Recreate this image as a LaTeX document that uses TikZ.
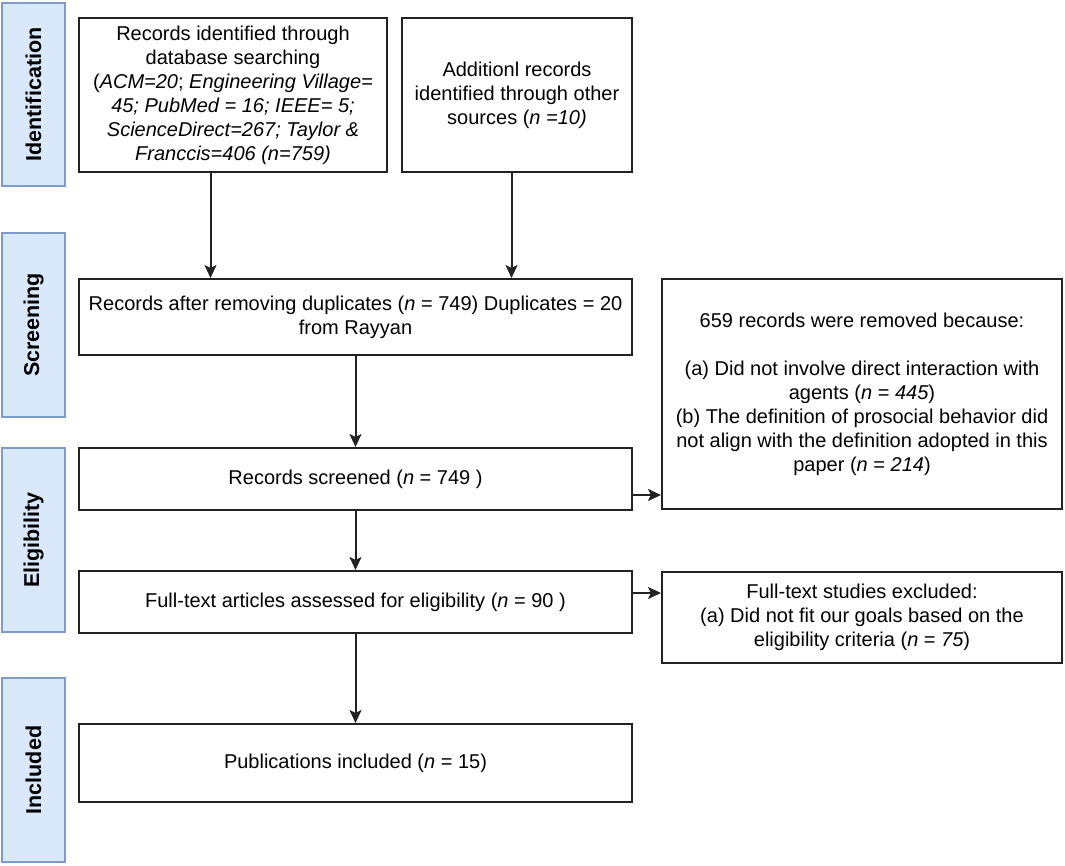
\documentclass[tikz,border=0pt]{standalone}
\usepackage{fontspec}
\setmainfont{Liberation Sans}
\usetikzlibrary{arrows.meta}
\definecolor{stripfill}{HTML}{DAE8FC}
\definecolor{stripdraw}{HTML}{7E9CC6}
\definecolor{boxdraw}{HTML}{222222}
\begin{document}
\begin{tikzpicture}[x=1pt,y=-1pt,
  every node/.style={font=\fontsize{20}{24}\selectfont},
  flowbox/.style={draw=boxdraw,line width=2pt,fill=white,rectangle,inner sep=0pt,align=center},
  phase/.style={draw=stripdraw,line width=1.8pt,fill=stripfill,rectangle,inner sep=0pt,
    minimum width=63pt,minimum height=184pt},
  phaselabel/.style={rotate=90,font=\fontsize{21.5}{24}\selectfont\bfseries},
  arr/.style={draw=boxdraw,line width=2pt,-{Stealth[length=13pt,width=12pt,inset=3pt]}}]
\fill[white] (0,0) rectangle (1065,866);
\useasboundingbox (0,0) rectangle (1065,866);

% phase strips
\node[phase,minimum height=183pt] (pid) at (33.5,94.5) {};
\node[phaselabel] (lid) at (pid.center) {Identification};
\node[phase] (psc) at (33.5,325) {};
\node[phaselabel] (lsc) at (psc.center) {Screening};
\node[phase] (pel) at (33.5,540) {};
\node[phaselabel] (lel) at (pel.center) {Eligibility};
\node[phase] (pin) at (33.5,770) {};
\node[phaselabel] (lin) at (pin.center) {Included};

% boxes
\node[flowbox,minimum width=308pt,minimum height=154pt] (db) at (233,95)
  {Records identified through\\database searching\\(\textit{ACM=20}; \textit{Engineering Village=}\\
   \textit{45; PubMed = 16; IEEE= 5;}\\\textit{ScienceDirect=267; Taylor \&}\\\textit{Franccis=406 (n=759)}};
\node[flowbox,minimum width=230pt,minimum height=154pt] (other) at (517,95)
  {Additionl records\\identified through other\\sources (\textit{n =10)}};
\node[flowbox,minimum width=553pt,minimum height=76pt] (dup) at (355.5,317)
  {Records after removing duplicates (\textit{n} = 749) Duplicates = 20\\from Rayyan};
\node[flowbox,minimum width=553pt,minimum height=62pt] (scr) at (355.5,479)
  {Records screened (\textit{n} = 749 )};
\node[flowbox,minimum width=553pt,minimum height=62pt] (full) at (355.5,602)
  {Full-text articles assessed for eligibility (\textit{n} = 90 )};
\node[flowbox,minimum width=553pt,minimum height=78pt] (pub) at (355.5,763)
  {Publications included (\textit{n} = 15)};
\node[flowbox,minimum width=400pt,minimum height=230pt] (rem) at (862,394)
  {659 records were removed because:\\[24pt](a) Did not involve direct interaction with\\
   agents (\textit{n} = \textit{445})\\(b) The definition of prosocial behavior did\\
   not align with the definition adopted in this\\paper (\textit{n} = \textit{214})};
\node[flowbox,minimum width=400pt,minimum height=91pt] (exc) at (862,617.5)
  {Full-text studies excluded:\\(a) Did not fit our goals based on the\\eligibility criteria (\textit{n} = \textit{75})};

% connector positions
\coordinate (xa) at (210.5,0);
\coordinate (xb) at (511.5,0);
\coordinate (ya) at (0,495);
\coordinate (yb) at (0,593);

\draw[arr] (xa |- db.south) -- (xa |- dup.north);
\draw[arr] (xb |- other.south) -- (xb |- dup.north);
\draw[arr] (dup.south) -- (scr.north);
\draw[arr] (scr.south) -- (full.north);
\draw[arr] (full.south) -- (pub.north);
\draw[arr] (scr.east |- ya) -- (rem.west |- ya);
\draw[arr] (full.east |- yb) -- (exc.west |- yb);
\end{tikzpicture}
\end{document}
